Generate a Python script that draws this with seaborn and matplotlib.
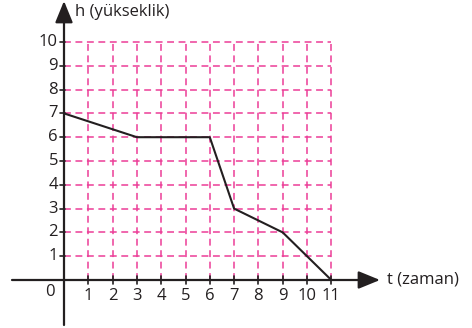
import matplotlib
matplotlib.use("Agg")
import matplotlib.pyplot as plt
import seaborn as sns
import pandas as pd

t_values = [0, 3, 6, 7, 9, 11]
h_values = [7, 6, 6, 3, 2, 0]
x_ticks = list(range(1, 12))
y_ticks = list(range(1, 11))

sns.set_theme(style="white")
plt.rcParams['font.family'] = ['Open Sans', 'DejaVu Sans']

W, H = 472, 328
fig = plt.figure(figsize=(W / 100, H / 100), dpi=100)
ax = fig.add_axes([0, 0, 1, 1])
x0px, ux = 64, 24.3
y0px, uy = 280, 23.8
ax.set_xlim(-x0px / ux, (W - x0px) / ux)
ax.set_ylim((y0px - H) / uy, y0px / uy)
ax.axis('off')

pink = '#ec3d97'
for xv in x_ticks:
    ax.plot([xv, xv], [0, 10], color=pink, lw=1.1, ls=(0, (4.5, 3)), zorder=1)
for yv in y_ticks:
    ax.plot([0, 11], [yv, yv], color=pink, lw=1.1, ls=(0, (4.5, 3)), zorder=1)

dark = '#231f20'
arrow = dict(arrowstyle='-|>,head_length=1.1,head_width=0.45', color=dark, lw=1.6,
             shrinkA=0, shrinkB=0, mutation_scale=12)
ax.plot([-52 / ux, 0], [0, 0], color=dark, lw=1.6, zorder=3)
ax.annotate('', xy=((380 - x0px) / ux, 0), xytext=(0, 0), arrowprops=arrow, zorder=3)
ax.plot([0, 0], [(y0px - 325) / uy, 0], color=dark, lw=1.6, zorder=3)
ax.annotate('', xy=(0, (y0px - 1) / uy), xytext=(0, 0), arrowprops=arrow, zorder=3)

tick_dx = 4 / ux
tick_dy = 4 / uy
for xv in x_ticks:
    ax.plot([xv, xv], [-tick_dy, tick_dy], color=dark, lw=1.2, zorder=3)
    ax.text(xv, -16 / uy, str(xv), ha='center', va='center', fontsize=12, color=dark)
for yv in y_ticks:
    ax.plot([-tick_dx, tick_dx * 0.3], [yv, yv], color=dark, lw=1.2, zorder=3)
    ax.text(-6 / ux, yv, str(yv), ha='right', va='center', fontsize=12, color=dark)
ax.text(-14 / ux, -12 / uy, '0', ha='center', va='center', fontsize=12, color=dark)

df = pd.DataFrame({'t': t_values, 'h': h_values})
sns.lineplot(data=df, x='t', y='h', ax=ax, color=dark, lw=1.5, zorder=4, sort=False)

ax.text((387 - x0px) / ux, 0, 't (zaman)', ha='left', va='center', fontsize=12, color=dark)
ax.text((75 - x0px) / ux, (y0px - 12) / uy, 'h (yükseklik)', ha='left', va='center', fontsize=12, color=dark)

fig.savefig('out.png', dpi=100)
